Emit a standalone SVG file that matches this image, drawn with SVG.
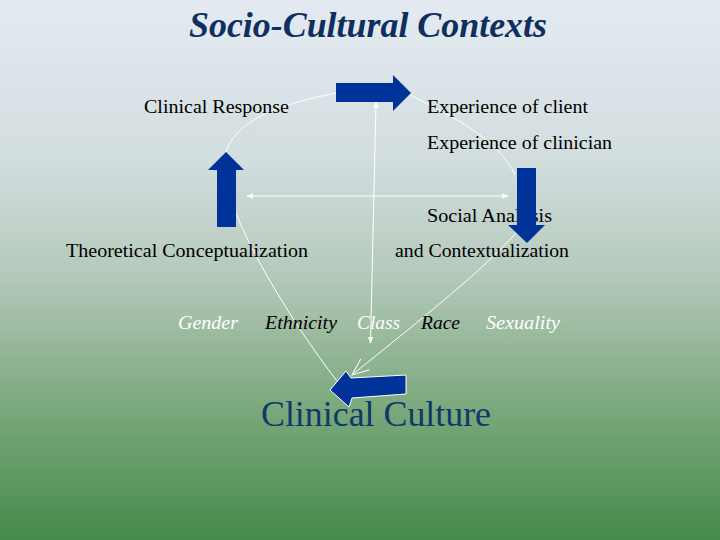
<svg xmlns="http://www.w3.org/2000/svg" width="720" height="540" viewBox="0 0 720 540">
<defs>
<linearGradient id="bg" x1="0" y1="0" x2="0" y2="1">
<stop offset="0" stop-color="#e4eaf2"/>
<stop offset="0.3" stop-color="#d2ddde"/>
<stop offset="0.5" stop-color="#b6cabd"/>
<stop offset="0.75" stop-color="#7ca97d"/>
<stop offset="1" stop-color="#468a4b"/>
</linearGradient>
<marker id="ah" viewBox="0 0 10 10" refX="9" refY="5" markerWidth="7" markerHeight="7" markerUnits="userSpaceOnUse" orient="auto-start-reverse">
<path d="M0,1 L10,5 L0,9 Z" fill="#ffffff"/>
</marker>
<marker id="av" viewBox="0 0 20 20" refX="19" refY="10" markerWidth="20" markerHeight="20" markerUnits="userSpaceOnUse" orient="auto">
<path d="M2,3 L19,10 L2,17" fill="none" stroke="#ffffff" stroke-width="1"/>
</marker>
<style>
text{font-family:"Liberation Serif","DejaVu Serif","Noto Serif",serif}
.lbl{font-size:19px;fill:#000000}
.it{font-size:19px;font-style:italic}
.w{fill:#ffffff}
.k{fill:#000000}
.arr{fill:#003399}
.ln{fill:none;stroke:#ffffff;stroke-width:1}
.title{font-size:35px;font-weight:bold;font-style:italic;fill:#0f2f5f}
.cc{font-size:35px;fill:#0d3a68}
</style>
</defs>
<rect x="0" y="0" width="720" height="540" fill="url(#bg)"/>
<text class="title" x="368" y="37" text-anchor="middle" textLength="358" lengthAdjust="spacingAndGlyphs">Socio-Cultural Contexts</text>

<g id="connectors">
<path class="ln" d="M226,152 C236,120 280,104 336,93"/>
<path class="ln" d="M410,95 C450,115 500,140 515,175"/>
<path class="ln" d="M376,102 L370.5,343" marker-start="url(#ah)" marker-end="url(#ah)"/>
<path class="ln" d="M247,196 L508,196" marker-start="url(#ah)" marker-end="url(#ah)"/>
<path class="ln" d="M236,213 C250,250 290,320 337,381"/>
<path class="ln" d="M520,228 C490,265 420,320 352,375" marker-end="url(#av)"/>
</g>

<g id="clinical-response"><text class="lbl" x="144" y="113" textLength="145" lengthAdjust="spacingAndGlyphs">Clinical Response</text></g>
<g id="experience-client"><text class="lbl" x="427" y="113" textLength="161" lengthAdjust="spacingAndGlyphs">Experience of client</text></g>
<g id="experience-clinician"><text class="lbl" x="427" y="149" textLength="185" lengthAdjust="spacingAndGlyphs">Experience of clinician</text></g>
<g id="social-analysis"><text class="lbl" x="427" y="222" textLength="125" lengthAdjust="spacingAndGlyphs">Social Analysis</text></g>
<g id="theoretical"><text class="lbl" x="66" y="257" textLength="242" lengthAdjust="spacingAndGlyphs">Theoretical Conceptualization</text></g>
<g id="contextualization"><text class="lbl" x="395" y="257" textLength="174" lengthAdjust="spacingAndGlyphs">and Contextualization</text></g>

<g id="gender"><text class="it w" x="178" y="329" textLength="60" lengthAdjust="spacingAndGlyphs">Gender</text></g>
<g id="ethnicity"><text class="it k" x="265" y="329" textLength="72" lengthAdjust="spacingAndGlyphs">Ethnicity</text></g>
<g id="class"><text class="it w" x="357" y="329" textLength="43" lengthAdjust="spacingAndGlyphs">Class</text></g>
<g id="race"><text class="it k" x="421" y="329" textLength="39" lengthAdjust="spacingAndGlyphs">Race</text></g>
<g id="sexuality"><text class="it w" x="486" y="329" textLength="74" lengthAdjust="spacingAndGlyphs">Sexuality</text></g>

<g id="arrow-right"><polygon class="arr" points="336,83 393,83 393,75 411,93 393,111 393,102 336,102"/></g>
<g id="arrow-up"><polygon class="arr" points="217,227 217,170 208,170 226,152 244,170 236,170 236,227"/></g>
<g id="arrow-down"><polygon class="arr" points="517,168 536,168 536,225 545,225 527,243 508,225 517,225"/></g>
<g id="arrow-left"><polygon class="arr" points="330,390 346,371 351,378 406,375 406,394 352,398 349,407" stroke="#ffffff" stroke-width="1"/></g>

<g id="clinical-culture"><text class="cc" x="261" y="426" textLength="230" lengthAdjust="spacingAndGlyphs">Clinical Culture</text></g>
</svg>
